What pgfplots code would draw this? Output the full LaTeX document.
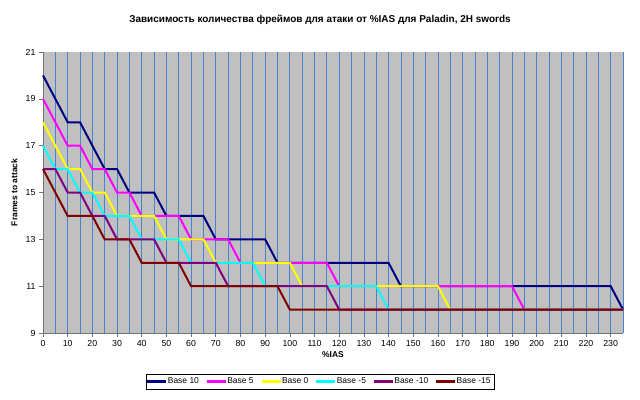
\documentclass[border=0pt]{standalone}
\usepackage{pgfplots}
\usepackage{pgfplotstable}
\pgfplotsset{compat=1.18}
\usepackage{fontspec}
\setmainfont{Liberation Sans}
\definecolor{plotbg}{RGB}{192,192,192}
\definecolor{gridblue}{RGB}{70,130,205}
\definecolor{cnavy}{RGB}{0,0,128}
\definecolor{cmag}{RGB}{255,0,255}
\definecolor{cyel}{RGB}{255,255,0}
\definecolor{ccyan}{RGB}{0,255,255}
\definecolor{cpurp}{RGB}{128,0,128}
\definecolor{cdred}{RGB}{128,0,0}
\pgfplotstableread{
x b10 b5 b0 m5 m10 m15
0 20 19 18 17 16 16
5 19 18 17 16 16 15
10 18 17 16 16 15 14
15 18 17 16 15 15 14
20 17 16 15 15 14 14
25 16 16 15 14 14 13
30 16 15 14 14 13 13
35 15 15 14 14 13 13
40 15 14 14 13 13 12
45 15 14 14 13 13 12
50 14 14 13 13 12 12
55 14 14 13 13 12 12
60 14 13 13 12 12 11
65 14 13 13 12 12 11
70 13 13 12 12 12 11
75 13 13 12 12 11 11
80 13 12 12 12 11 11
85 13 12 12 12 11 11
90 13 12 12 11 11 11
95 12 12 12 11 11 11
100 12 12 12 11 11 10
105 12 12 11 11 11 10
110 12 12 11 11 11 10
115 12 12 11 11 11 10
120 12 11 11 11 10 10
125 12 11 11 11 10 10
130 12 11 11 11 10 10
135 12 11 11 11 10 10
140 12 11 11 10 10 10
145 11 11 11 10 10 10
150 11 11 11 10 10 10
155 11 11 11 10 10 10
160 11 11 11 10 10 10
165 11 11 10 10 10 10
170 11 11 10 10 10 10
175 11 11 10 10 10 10
180 11 11 10 10 10 10
185 11 11 10 10 10 10
190 11 11 10 10 10 10
195 11 10 10 10 10 10
200 11 10 10 10 10 10
205 11 10 10 10 10 10
210 11 10 10 10 10 10
215 11 10 10 10 10 10
220 11 10 10 10 10 10
225 11 10 10 10 10 10
230 11 10 10 10 10 10
235 10 10 10 10 10 10
}\datatable
\begin{document}
\begin{tikzpicture}[x=1bp,y=1bp]
\path[use as bounding box] (0,0) rectangle (640,399);
\begin{axis}[
  at={(43bp,66bp)}, anchor=south west,
  scale only axis, width=580bp, height=281bp,
  xmin=0, xmax=235, ymin=9, ymax=21,
  axis background/.style={fill=plotbg},
  axis lines*=left,
  axis line style={-, draw=black!55, line width=0.8pt},
  xtick={0,10,...,230},
  minor xtick={5,15,...,235},
  ytick={9,11,...,21},
  xmajorgrids, xminorgrids,
  major grid style={draw=gridblue, line width=0.7pt},
  minor grid style={draw=gridblue, line width=0.7pt},
  tick align=outside,
  major tick length=4bp, minor tick length=0pt,
  tick style={draw=black!55, line width=0.6pt},
  /pgf/number format/assume math mode=true,
  ticklabel style={font=\fontsize{8.8}{10}\selectfont, text=black},
  xlabel={\textbf{\%IAS}},
  ylabel={\textbf{Frames to attack}},
  xlabel style={font=\fontsize{8.5}{10}\selectfont, at={(axis description cs:0.5,0)}, anchor=north, yshift=-15bp},
  ylabel style={font=\fontsize{8.5}{10}\selectfont, at={(axis description cs:0,0.5)}, anchor=south, yshift=22bp},
  legend columns=6,
  legend style={at={(0.4776,-0.1726)}, anchor=center, draw=black,
    font=\fontsize{8.5}{10}\selectfont, inner sep=1.5bp,
    /tikz/every even column/.append style={column sep=6bp}},
  clip=false,
]
\addplot[draw=cnavy, line width=2bp, forget plot] table[x=x, y=b10] {\datatable};
\addplot[draw=cmag, line width=2bp, forget plot] table[x=x, y=b5] {\datatable};
\addplot[draw=cyel, line width=2bp, forget plot] table[x=x, y=b0] {\datatable};
\addplot[draw=ccyan, line width=2bp, forget plot] table[x=x, y=m5] {\datatable};
\addplot[draw=cpurp, line width=2bp, forget plot] table[x=x, y=m10] {\datatable};
\addplot[draw=cdred, line width=2bp, forget plot] table[x=x, y=m15] {\datatable};
\addlegendimage{legend image code/.code={\fill[cnavy] (0bp,-1bp) rectangle (18bp,1bp);}}
\addlegendentry{Base 10}
\addlegendimage{legend image code/.code={\fill[cmag] (0bp,-1bp) rectangle (18bp,1bp);}}
\addlegendentry{Base 5}
\addlegendimage{legend image code/.code={\fill[cyel] (0bp,-1bp) rectangle (18bp,1bp);}}
\addlegendentry{Base 0}
\addlegendimage{legend image code/.code={\fill[ccyan] (0bp,-1bp) rectangle (18bp,1bp);}}
\addlegendentry{Base -5}
\addlegendimage{legend image code/.code={\fill[cpurp] (0bp,-1bp) rectangle (18bp,1bp);}}
\addlegendentry{Base -10}
\addlegendimage{legend image code/.code={\fill[cdred] (0bp,-1bp) rectangle (18bp,1bp);}}
\addlegendentry{Base -15}
\end{axis}
\node[font=\fontsize{10}{12}\selectfont\bfseries] at (320bp,379bp) {Зависимость количества фреймов для атаки от \%IAS для Paladin, 2H swords};
\end{tikzpicture}
\end{document}
